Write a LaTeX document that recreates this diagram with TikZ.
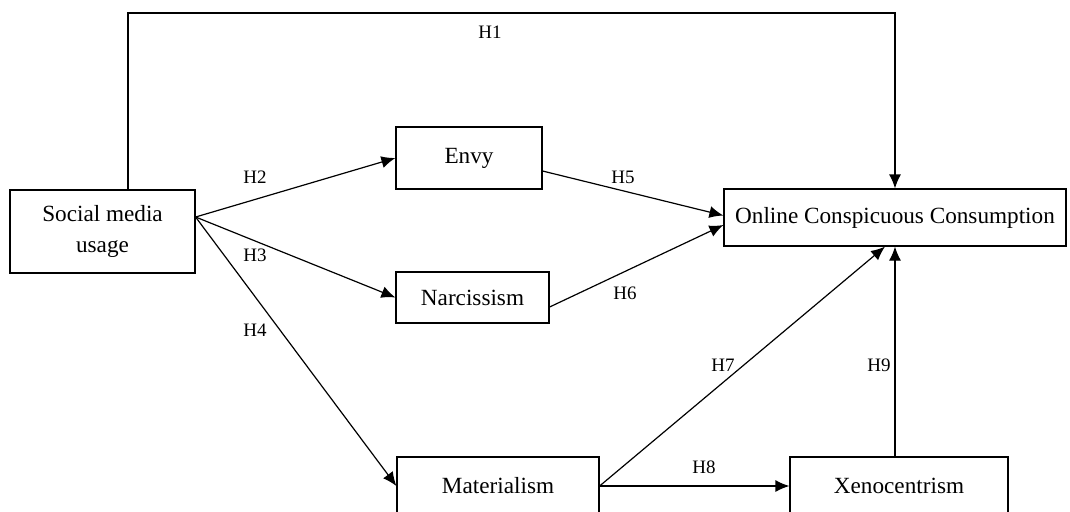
\documentclass[tikz,border=0pt]{standalone}
\usepackage{fontspec}
\setmainfont{Liberation Serif}
\usepackage{tikz}
\usetikzlibrary{positioning, arrows.meta, calc}

\begin{document}
\begin{tikzpicture}[
  x=0.5pt, y=-0.5pt,
  font=\fontsize{11.6}{15.5}\selectfont,
  >={Latex[length=7pt,width=6pt]},
  line width=0.6pt,
  box/.style={draw, inner sep=0pt, align=center},
  hyp/.style={font=\fontsize{9.5}{11}\selectfont, inner sep=0pt}
]
  \useasboundingbox (0,0) rectangle (1070,511);

  \node[box, minimum width=92.5pt, minimum height=41.5pt] (social) at (102.5,231.5) {Social media\\usage};
  \node[box, minimum width=73pt, minimum height=31pt] (envy) at (469,158) {Envy};
  \node[box, minimum width=76.5pt, minimum height=25.5pt] (narc) at (472.5,297.5) {Narcissism};
  \node[box, minimum width=101pt, minimum height=29pt] (mat) at (498,486) {Materialism};
  \node[box, minimum width=109pt, minimum height=29pt] (xeno) at (899,486) {Xenocentrism};
  \node[box, minimum width=171pt, minimum height=28.5pt] (occ) at (895,217.5) {Online Conspicuous Consumption};

  \coordinate (top) at (128,13);
  \coordinate (fan) at ($(social.east)+(0,-14.5)$);

  % direct path
  \draw[->] (social.north -| top) -- (top) -| (occ.north);

  % mediators
  \draw[->] (fan) -- (envy.west);
  \draw[->] (fan) -- (narc.west);
  \draw[->] (fan) -- (mat.west);
  \draw[->] ($(envy.east)+(0,13)$) -- ($(occ.west)+(0,-2)$);
  \draw[->] ($(narc.east)+(0,9.5)$) -- ($(occ.west)+(0,7.5)$);
  \draw[->] (mat.east) -- ($(occ.south)+(-10,0)$);
  \draw[->] (mat.east) -- (mat.east -| xeno.west);
  \draw[->] (xeno.north -| occ.south) -- (occ.south);

  \node[hyp] (h1) at (490,32) {H1};
  \node[hyp] (h2) at (255,177) {H2};
  \node[hyp] (h3) at (255,255) {H3};
  \node[hyp] (h4) at (255,330) {H4};
  \node[hyp] (h5) at (623,177) {H5};
  \node[hyp] (h6) at (625,293) {H6};
  \node[hyp] (h7) at (723,365) {H7};
  \node[hyp] (h8) at (704,467) {H8};
  \node[hyp] (h9) at (879,365) {H9};
\end{tikzpicture}
\end{document}
